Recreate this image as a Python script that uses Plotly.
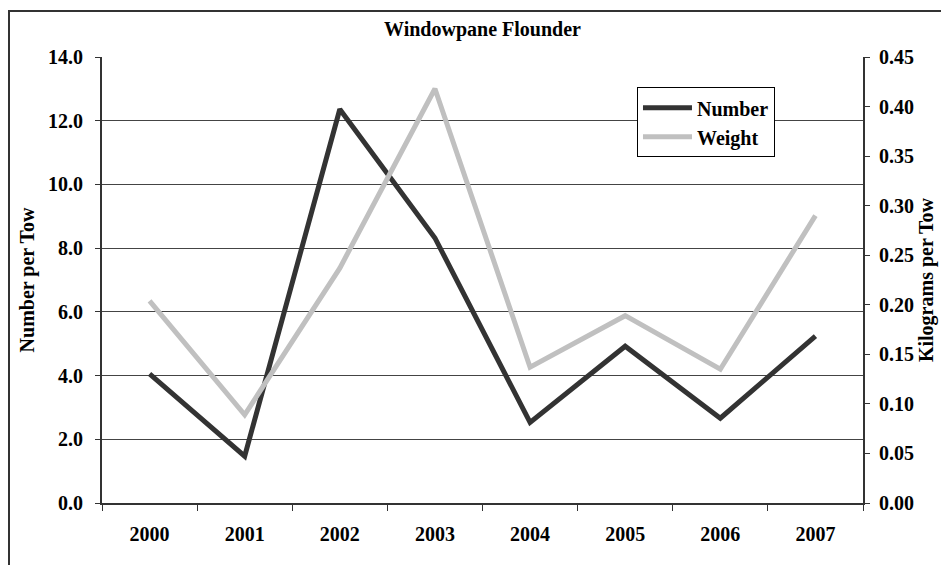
import plotly.graph_objects as go

years = ["2000", "2001", "2002", "2003", "2004", "2005", "2006", "2007"]
number_per_tow = [4.05, 1.47, 12.36, 8.32, 2.53, 4.92, 2.66, 5.24]
kg_per_tow = [0.204, 0.089, 0.237, 0.418, 0.137, 0.189, 0.135, 0.290]
left_ticks = [0, 2, 4, 6, 8, 10, 12, 14]
right_ticks = [0, 0.05, 0.1, 0.15, 0.2, 0.25, 0.3, 0.35, 0.4, 0.45]

# page body has an 8px margin, so the figure is shrunk by that much
W, H = 941, 557
font = dict(family="Liberation Serif, Times New Roman, serif", size=20, color="black")

fig = go.Figure()
fig.add_trace(go.Scatter(x=years, y=number_per_tow, name="<b>Number</b>", mode="lines",
                         line=dict(color="#333333", width=5)))
fig.add_trace(go.Scatter(x=years, y=kg_per_tow, name="<b>Weight</b>", mode="lines",
                         line=dict(color="#c0c0c0", width=5), yaxis="y2"))

fig.update_layout(
    width=W, height=H,
    margin=dict(l=94, r=86, t=49, b=62, autoexpand=False),
    paper_bgcolor="white", plot_bgcolor="white",
    font=font,
    title=dict(text="<b>Windowpane Flounder</b>", x=0.5, xref="paper", xanchor="center",
               y=1 - 21 / H, yref="container", yanchor="middle", font=dict(size=20)),
    showlegend=True,
    legend=dict(x=0.703, y=0.932, xanchor="left", yanchor="top", bgcolor="white",
                bordercolor="black", borderwidth=1, font=dict(size=20),
                tracegroupgap=0, itemwidth=49),
    xaxis=dict(type="category", range=[-0.5, 7.5], tickson="boundaries",
               ticks="outside", ticklen=6, tickcolor="#333333", showline=True,
               linecolor="#333333", linewidth=2, showgrid=False,
               ticklabelstandoff=12, tickfont=dict(size=20),
               tickvals=years, ticktext=["<b>%s</b>" % y for y in years]),
    yaxis=dict(range=[0, 14], ticks="outside", ticklen=5,
               tickcolor="#333333", showline=True, linecolor="#333333", linewidth=2,
               showgrid=True, gridcolor="#444444", gridwidth=1, zeroline=False,
               tickfont=dict(size=20), ticklabelstandoff=8,
               tickvals=left_ticks, ticktext=["<b>%.1f</b>" % v for v in left_ticks],
               title=dict(text="<b>Number per Tow</b>", standoff=8, font=dict(size=20))),
    yaxis2=dict(range=[0, 0.45], overlaying="y", side="right", ticks="outside", ticklen=5,
                tickcolor="#333333", showline=True, linecolor="#333333", linewidth=2,
                showgrid=False, zeroline=False, tickfont=dict(size=20), ticklabelstandoff=5,
                tickvals=right_ticks, ticktext=["<b>%.2f</b>" % v for v in right_ticks],
                title=dict(text="<b>Kilograms per Tow</b>", standoff=6, font=dict(size=20))),
)

# outer chart border (only left and top edges fall inside the picture)
fig.add_shape(type="rect", xref="paper", yref="paper",
              x0=-93 / 761, x1=2, y0=-1, y1=(446 + 46) / 446,
              line=dict(color="#333333", width=2), layer="below")

fig.write_html("out.html")
